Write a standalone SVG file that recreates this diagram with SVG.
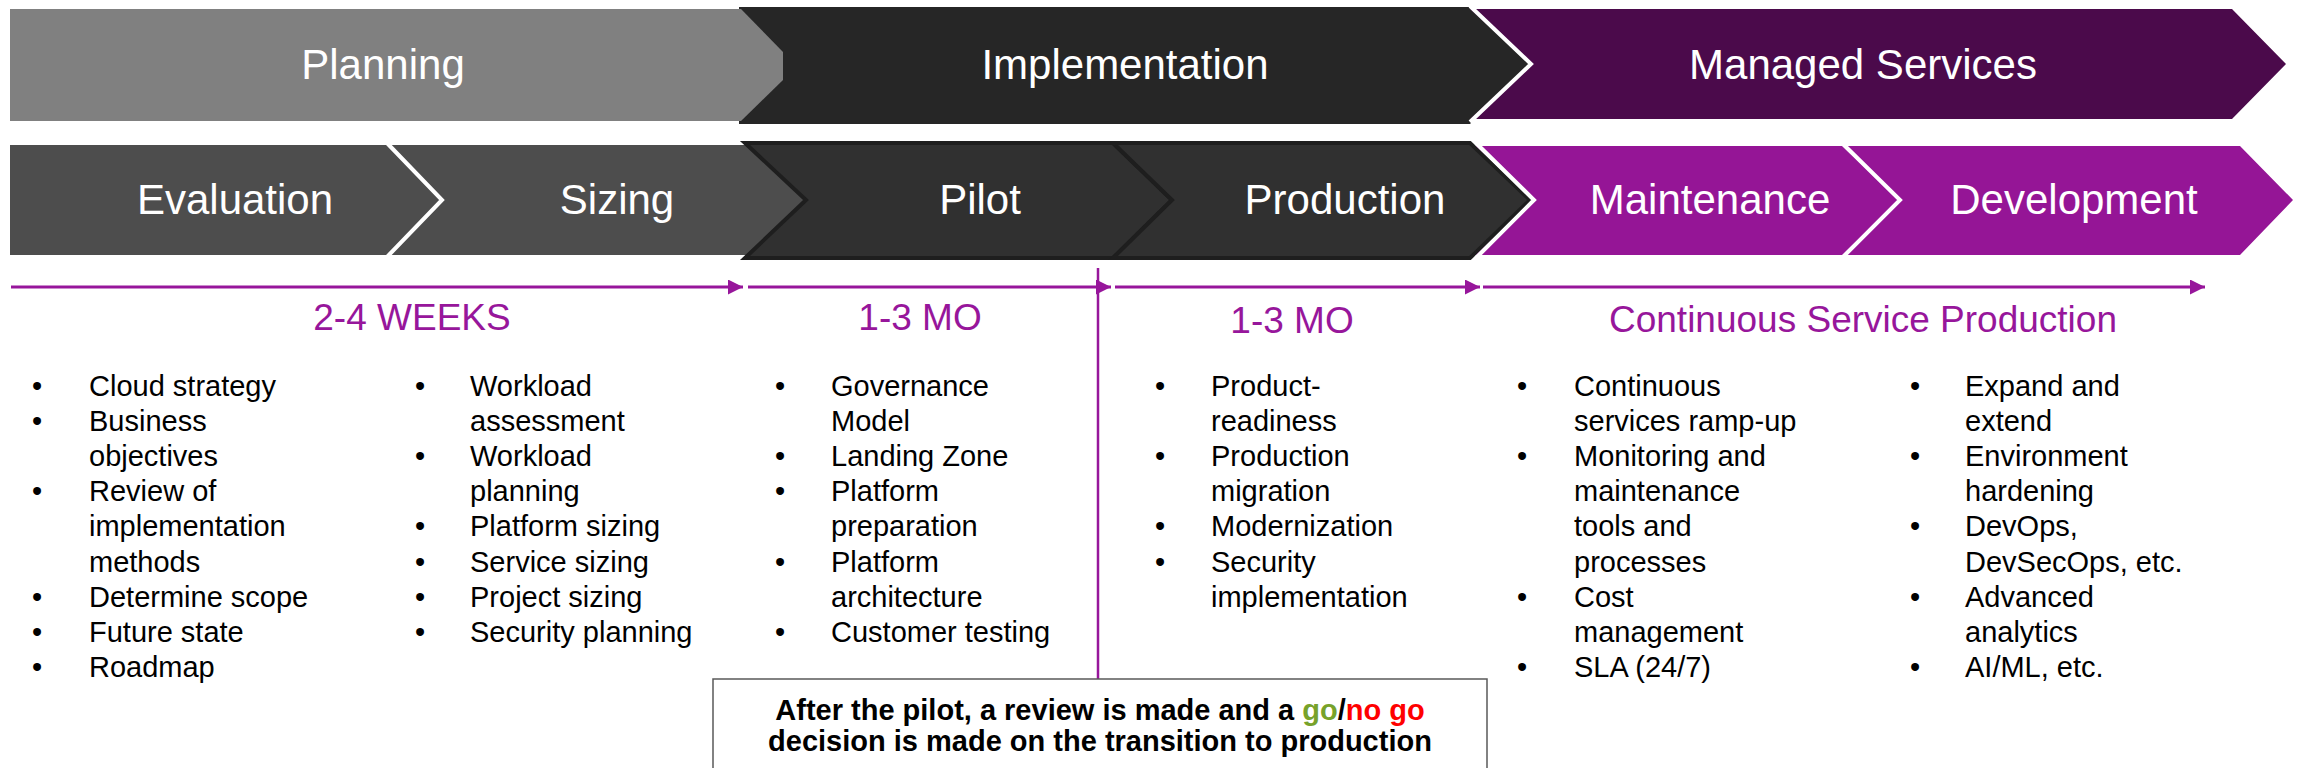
<svg xmlns="http://www.w3.org/2000/svg" width="2297" height="768" viewBox="0 0 2297 768">
<style>
  .lbl { font-family: "Liberation Sans", Arial, sans-serif; font-size: 42px; fill: #ffffff; text-anchor: middle; }
  .dur { font-family: "Liberation Sans", Arial, sans-serif; font-size: 37px; fill: #97169b; text-anchor: middle; }
  .li { font-family: "Liberation Sans", Arial, sans-serif; font-size: 29px; fill: #000000; }
  .box { font-family: "Liberation Sans", Arial, sans-serif; font-size: 29px; font-weight: bold; fill: #000000; text-anchor: middle; }
  .sep { fill: none; stroke: #ffffff; stroke-width: 4; stroke-linejoin: miter; }
  .dk { fill: #303030; stroke: #1e1e1e; stroke-width: 4; stroke-linejoin: miter; }
  .tl { stroke: #97169b; stroke-width: 3; fill: none; }
</style>
<defs>
  <marker id="ah" markerWidth="5" markerHeight="5" refX="5" refY="2.5" orient="auto" markerUnits="strokeWidth">
    <path d="M0,0 L5,2.5 L0,5 Z" fill="#97169b"/>
  </marker>
</defs>
<rect width="2297" height="768" fill="#ffffff"/>

<!-- top row phases -->
<g id="phase-implementation">
  <polygon points="739,7 1470,7 1530,65 1470,124 739,124" fill="#262626"/>
  <text class="lbl" x="1125" y="79">Implementation</text>
</g>
<g id="phase-planning">
  <polygon points="10,9 741,9 783,52 783,80 741,121 10,121" fill="#808080"/>
  <text class="lbl" x="383" y="79">Planning</text>
</g>
<g id="phase-managed">
  <polygon points="1470,9 2232,9 2286,64 2232,119 1470,119 1530,64" fill="#4b0a4b"/>
  <polyline class="sep" points="1470,6 1531,64 1470,122"/>
  <text class="lbl" x="1863" y="79">Managed Services</text>
</g>

<!-- second row steps -->
<g id="step-sizing">
  <polygon points="385,145 812,145 812,255 385,255 442,200" fill="#4d4d4d"/>
  <text class="lbl" x="617" y="214">Sizing</text>
</g>
<g id="step-evaluation">
  <polygon points="10,145 387,145 442,200 387,255 10,255" fill="#4d4d4d"/>
  <polyline class="sep" points="387,143 442,200 387,257"/>
  <text class="lbl" x="235" y="214">Evaluation</text>
</g>
<g id="step-pilot">
  <polygon class="dk" points="745,143 1113,143 1172,200 1113,258 745,258 806,200"/>
  <text class="lbl" x="980" y="214">Pilot</text>
</g>
<g id="step-production">
  <polygon class="dk" points="1113,143 1470,143 1530,200 1470,258 1113,258 1172,200"/>
  <text class="lbl" x="1345" y="214">Production</text>
</g>
<g id="step-maintenance">
  <polygon points="1476,146 1842,146 1900,200 1842,255 1476,255 1534,200" fill="#951596"/>
  <polyline class="sep" points="1476,143 1534,200 1476,258"/>
  <text class="lbl" x="1710" y="214">Maintenance</text>
</g>
<g id="step-development">
  <polygon points="1842,146 2240,146 2293,200 2240,255 1842,255 1900,200" fill="#951596"/>
  <polyline class="sep" points="1842,143 1900,200 1842,258"/>
  <text class="lbl" x="2074" y="214">Development</text>
</g>

<!-- connectors -->
<g id="connectors">
  <line class="tl" x1="11" y1="287" x2="743" y2="287" marker-end="url(#ah)"/>
  <line class="tl" x1="748" y1="287" x2="1111" y2="287" marker-end="url(#ah)"/>
  <line class="tl" x1="1115" y1="287" x2="1480" y2="287" marker-end="url(#ah)"/>
  <line class="tl" x1="1483" y1="287" x2="2205" y2="287" marker-end="url(#ah)"/>
  <line x1="1098" y1="268" x2="1098" y2="679" stroke="#97169b" stroke-width="2.5"/>
</g>

<!-- durations -->
<g id="durations">
  <text class="dur" x="412" y="330">2-4 WEEKS</text>
  <text class="dur" x="920" y="330">1-3 MO</text>
  <text class="dur" x="1292" y="333">1-3 MO</text>
  <text class="dur" x="1863" y="332">Continuous Service Production</text>
</g>

<!-- lists -->
<g id="list-evaluation" class="li">
  <text class="li" x="32"><tspan x="32" y="396">•</tspan><tspan x="32" y="431.1">•</tspan><tspan x="32" y="501.3">•</tspan><tspan x="32" y="606.6">•</tspan><tspan x="32" y="641.7">•</tspan><tspan x="32" y="676.8">•</tspan></text>
  <text class="li"><tspan x="89" y="396">Cloud strategy</tspan><tspan x="89" y="431.1">Business</tspan><tspan x="89" y="466.2">objectives</tspan><tspan x="89" y="501.3">Review of</tspan><tspan x="89" y="536.4">implementation</tspan><tspan x="89" y="571.5">methods</tspan><tspan x="89" y="606.6">Determine scope</tspan><tspan x="89" y="641.7">Future state</tspan><tspan x="89" y="676.8">Roadmap</tspan></text>
</g>
<g id="list-sizing">
  <text class="li"><tspan x="415" y="396">•</tspan><tspan x="415" y="466.2">•</tspan><tspan x="415" y="536.4">•</tspan><tspan x="415" y="571.5">•</tspan><tspan x="415" y="606.6">•</tspan><tspan x="415" y="641.7">•</tspan></text>
  <text class="li"><tspan x="470" y="396">Workload</tspan><tspan x="470" y="431.1">assessment</tspan><tspan x="470" y="466.2">Workload</tspan><tspan x="470" y="501.3">planning</tspan><tspan x="470" y="536.4">Platform sizing</tspan><tspan x="470" y="571.5">Service sizing</tspan><tspan x="470" y="606.6">Project sizing</tspan><tspan x="470" y="641.7">Security planning</tspan></text>
</g>
<g id="list-pilot">
  <text class="li"><tspan x="775" y="396">•</tspan><tspan x="775" y="466.2">•</tspan><tspan x="775" y="501.3">•</tspan><tspan x="775" y="571.5">•</tspan><tspan x="775" y="641.7">•</tspan></text>
  <text class="li"><tspan x="831" y="396">Governance</tspan><tspan x="831" y="431.1">Model</tspan><tspan x="831" y="466.2">Landing Zone</tspan><tspan x="831" y="501.3">Platform</tspan><tspan x="831" y="536.4">preparation</tspan><tspan x="831" y="571.5">Platform</tspan><tspan x="831" y="606.6">architecture</tspan><tspan x="831" y="641.7">Customer testing</tspan></text>
</g>
<g id="list-production">
  <text class="li"><tspan x="1155" y="396">•</tspan><tspan x="1155" y="466.2">•</tspan><tspan x="1155" y="536.4">•</tspan><tspan x="1155" y="571.5">•</tspan></text>
  <text class="li"><tspan x="1211" y="396">Product-</tspan><tspan x="1211" y="431.1">readiness</tspan><tspan x="1211" y="466.2">Production</tspan><tspan x="1211" y="501.3">migration</tspan><tspan x="1211" y="536.4">Modernization</tspan><tspan x="1211" y="571.5">Security</tspan><tspan x="1211" y="606.6">implementation</tspan></text>
</g>
<g id="list-maintenance">
  <text class="li"><tspan x="1517" y="396">•</tspan><tspan x="1517" y="466.2">•</tspan><tspan x="1517" y="606.6">•</tspan><tspan x="1517" y="676.8">•</tspan></text>
  <text class="li"><tspan x="1574" y="396">Continuous</tspan><tspan x="1574" y="431.1">services ramp-up</tspan><tspan x="1574" y="466.2">Monitoring and</tspan><tspan x="1574" y="501.3">maintenance</tspan><tspan x="1574" y="536.4">tools and</tspan><tspan x="1574" y="571.5">processes</tspan><tspan x="1574" y="606.6">Cost</tspan><tspan x="1574" y="641.7">management</tspan><tspan x="1574" y="676.8">SLA (24/7)</tspan></text>
</g>
<g id="list-development">
  <text class="li"><tspan x="1910" y="396">•</tspan><tspan x="1910" y="466.2">•</tspan><tspan x="1910" y="536.4">•</tspan><tspan x="1910" y="606.6">•</tspan><tspan x="1910" y="676.8">•</tspan></text>
  <text class="li"><tspan x="1965" y="396">Expand and</tspan><tspan x="1965" y="431.1">extend</tspan><tspan x="1965" y="466.2">Environment</tspan><tspan x="1965" y="501.3">hardening</tspan><tspan x="1965" y="536.4">DevOps,</tspan><tspan x="1965" y="571.5">DevSecOps, etc.</tspan><tspan x="1965" y="606.6">Advanced</tspan><tspan x="1965" y="641.7">analytics</tspan><tspan x="1965" y="676.8">AI/ML, etc.</tspan></text>
</g>

<!-- decision box -->
<g id="decision-box">
  <rect x="713" y="679" width="774" height="110" fill="#ffffff" stroke="#595959" stroke-width="1.5"/>
  <text class="box" x="1100" y="720">After the pilot, a review is made and a <tspan fill="#77a22a">go</tspan>/<tspan fill="#ff0000">no go</tspan></text>
  <text class="box" x="1100" y="751">decision is made on the transition to production</text>
</g>
</svg>
